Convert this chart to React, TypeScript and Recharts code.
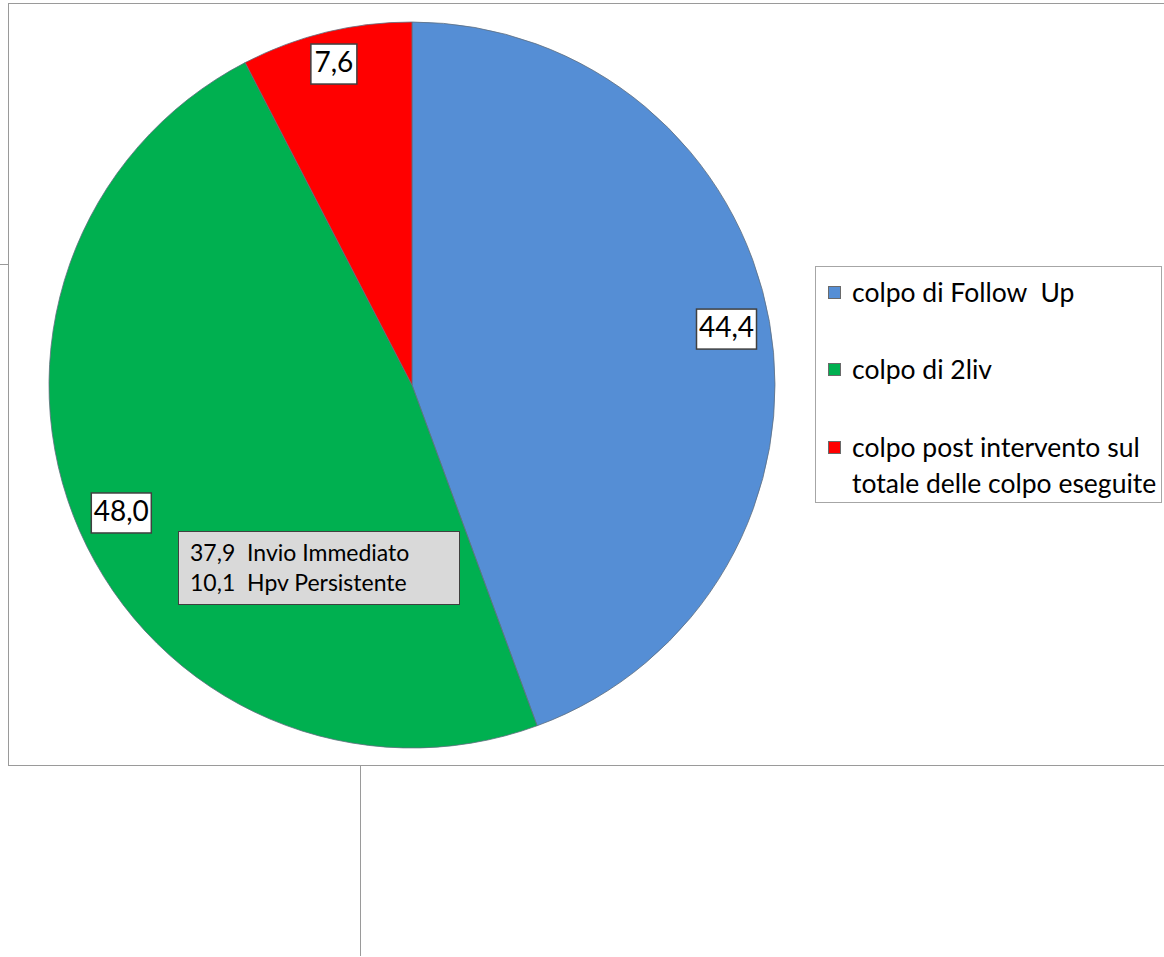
import React from "react";
import { PieChart, Pie, Cell, Legend } from "recharts";

// ── Data ────────────────────────────────────────────────────────────────────

const CATEGORIES = [
  "colpo di Follow  Up",
  "colpo di 2liv",
  "colpo post intervento sul totale delle colpo eseguite",
];
const VALUES = [44.4, 48.0, 7.6];
const LEGEND_LINES = [
  ["colpo di Follow  Up"],
  ["colpo di 2liv"],
  ["colpo post intervento sul", "totale delle colpo eseguite"],
];
const NOTE_LINES = [
  ["37,9", "Invio Immediato"],
  ["10,1", "Hpv Persistente"],
];

const COLORS = ["#558ed5", "#00b050", "#ff0000"];
const FONT = "Lato, 'Open Sans', sans-serif";

const data = CATEGORIES.map((name, i) => ({ name, value: VALUES[i] }));

// label distance from the centre, as share of the radius
const LABEL_RADIUS = [0.88, 0.875, 0.91];
// legend entry tops inside the box
const ENTRY_TOP = [7, 84, 162];

function fmt(v: number) {
  return v.toFixed(1).replace(".", ",");
}

function renderLabel(props: any) {
  const { cx, cy, midAngle, outerRadius, index, value } = props;
  const RAD = Math.PI / 180;
  const r = outerRadius * LABEL_RADIUS[index];
  const x = cx + r * Math.cos(-midAngle * RAD);
  const y = cy + r * Math.sin(-midAngle * RAD);
  const text = fmt(value);
  const w = text.length > 3 ? 60 : 46;
  const h = 40;
  return (
    <g>
      <rect x={x - w / 2} y={y - h / 2} width={w} height={h} fill="#ffffff" stroke="#404040" strokeWidth={1.5} />
      <text x={x} y={y + 1} textAnchor="middle" dominantBaseline="middle" fontFamily={FONT} fontSize={28} fill="#000">
        {text}
      </text>
    </g>
  );
}

function LegendBox() {
  return (
    <div
      style={{
        position: "relative",
        width: 347,
        height: 237,
        border: "1px solid #a6a6a6",
        boxSizing: "border-box",
        fontFamily: FONT,
        fontSize: 26.5,
        color: "#000",
        background: "#fff",
      }}
    >
      {LEGEND_LINES.map((lines, i) => (
        <div key={i} style={{ position: "absolute", left: 12, top: ENTRY_TOP[i], display: "flex" }}>
          <div
            style={{
              width: 13,
              height: 13,
              background: COLORS[i],
              border: "1px solid #6a6a6a",
              boxSizing: "border-box",
              marginRight: 11,
              marginTop: 12,
              flexShrink: 0,
            }}
          />
          <div style={{ lineHeight: "36px", whiteSpace: "pre" }}>
            {lines.map((l, j) => (
              <div key={j}>{l}</div>
            ))}
          </div>
        </div>
      ))}
    </div>
  );
}

export default function App() {
  return (
    <div style={{ position: "absolute", left: 0, top: 0, width: 1164, height: 957, background: "#fff", overflow: "hidden" }}>
      {/* frame and stray lines from the original slide */}
      <div style={{ position: "absolute", left: 8, top: 3, width: 1170, height: 763, border: "1px solid #9a9a9a", boxSizing: "border-box" }} />
      <div style={{ position: "absolute", left: 0, top: 264, width: 8, height: 1, background: "#9a9a9a" }} />
      <div style={{ position: "absolute", left: 360, top: 766, width: 1, height: 190, background: "#9a9a9a" }} />

      <div style={{ position: "absolute", left: 0, top: 0 }}>
        <PieChart width={1164} height={957} margin={{ top: 0, right: 0, bottom: 0, left: 0 }}>
          <Pie
            data={data}
            dataKey="value"
            nameKey="name"
            cx={412}
            cy={385}
            outerRadius={363}
            startAngle={90}
            endAngle={-270}
            stroke="#5f6f7f"
            strokeWidth={0.8}
            label={renderLabel}
            labelLine={false}
            isAnimationActive={false}
          >
            {data.map((_, i) => (
              <Cell key={i} fill={COLORS[i]} />
            ))}
          </Pie>
          <Legend
            layout="vertical"
            align="right"
            verticalAlign="top"
            content={() => <LegendBox />}
            wrapperStyle={{ position: "absolute", left: 815, top: 266, width: 347 }}
          />
        </PieChart>
      </div>

      {/* annotation on the green slice */}
      <div
        style={{
          position: "absolute",
          left: 178,
          top: 531,
          width: 282,
          height: 74,
          background: "#d9d9d9",
          border: "1.5px solid #404040",
          boxSizing: "border-box",
          fontFamily: FONT,
          fontSize: 23,
          color: "#000",
          paddingLeft: 11,
          paddingTop: 5,
          lineHeight: "30px",
        }}
      >
        {NOTE_LINES.map(([v, t], i) => (
          <div key={i} style={{ whiteSpace: "pre" }}>
            {v + "  " + t}
          </div>
        ))}
      </div>
    </div>
  );
}
